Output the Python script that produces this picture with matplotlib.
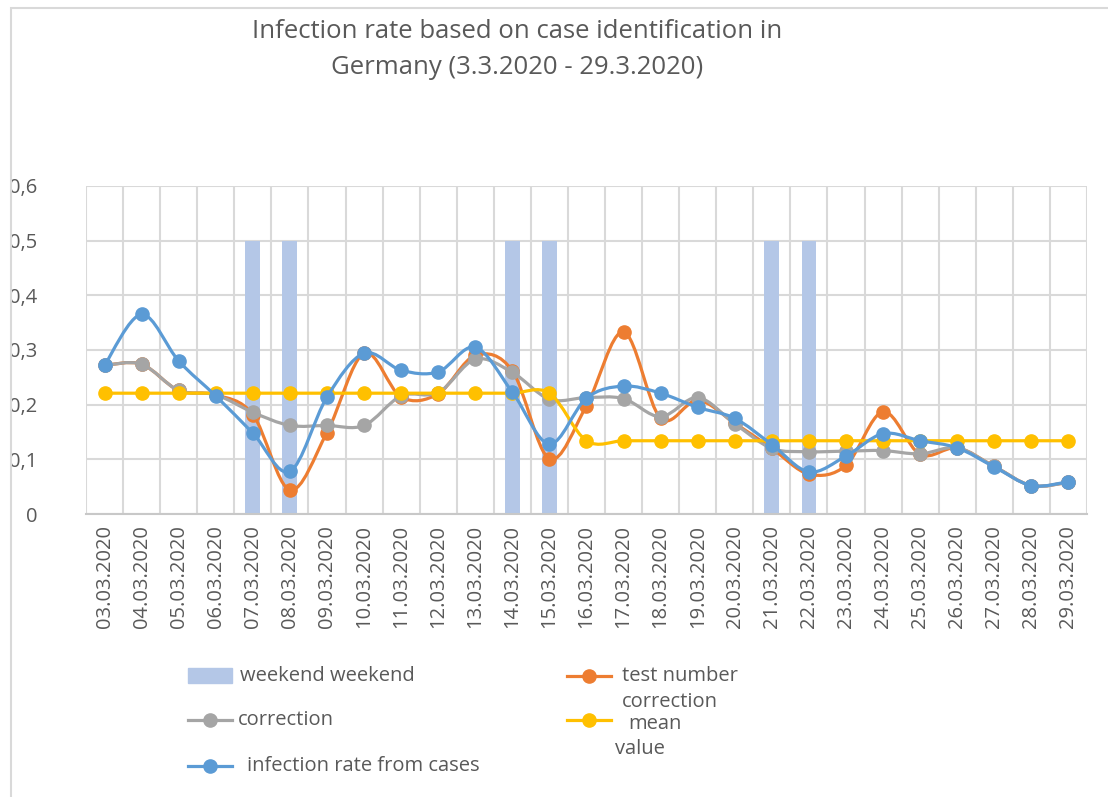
import numpy as np
import matplotlib
matplotlib.use("Agg")
import matplotlib.pyplot as plt
from matplotlib.path import Path
from matplotlib.patches import PathPatch, Rectangle
from matplotlib.lines import Line2D

plt.rcParams['font.family'] = ['Open Sans', 'DejaVu Sans']

dates = ["03.03.2020", "04.03.2020", "05.03.2020", "06.03.2020", "07.03.2020",
         "08.03.2020", "09.03.2020", "10.03.2020", "11.03.2020", "12.03.2020",
         "13.03.2020", "14.03.2020", "15.03.2020", "16.03.2020", "17.03.2020",
         "18.03.2020", "19.03.2020", "20.03.2020", "21.03.2020", "22.03.2020",
         "23.03.2020", "24.03.2020", "25.03.2020", "26.03.2020", "27.03.2020",
         "28.03.2020", "29.03.2020"]

weekend = [0, 0, 0, 0, 0.5, 0.5, 0, 0, 0, 0, 0, 0.5, 0.5, 0,
           0, 0, 0, 0, 0.5, 0.5, 0, 0, 0, 0, 0, 0, 0]

test_number_correction = [0.272, 0.274, 0.226, 0.218, 0.182, 0.044, 0.149, 0.294, 0.214,
                          0.220, 0.290, 0.262, 0.101, 0.198, 0.333, 0.175, 0.208, 0.166,
                          0.120, 0.073, 0.089, 0.187, 0.109, 0.121, 0.087, 0.052, 0.058]

correction = [0.272, 0.274, 0.226, 0.218, 0.186, 0.162, 0.162, 0.162, 0.216,
              0.222, 0.283, 0.259, 0.210, 0.213, 0.211, 0.178, 0.213, 0.165,
              0.120, 0.114, 0.115, 0.116, 0.110, 0.121, 0.087, 0.052, 0.058]

mean_value = [0.221, 0.221, 0.221, 0.221, 0.221, 0.221, 0.221, 0.221, 0.221,
              0.221, 0.221, 0.221, 0.221, 0.134, 0.134, 0.134, 0.134, 0.134,
              0.134, 0.134, 0.134, 0.134, 0.134, 0.134, 0.134, 0.134, 0.134]

infection_rate = [0.272, 0.365, 0.280, 0.216, 0.148, 0.078, 0.214, 0.294, 0.263,
                  0.260, 0.305, 0.223, 0.128, 0.212, 0.234, 0.221, 0.195, 0.175,
                  0.127, 0.077, 0.106, 0.147, 0.134, 0.121, 0.086, 0.052, 0.059]

W, H = 1108, 797
TXT = '#595959'
GRID = '#D9D9D9'
LEG_FS = 14.5


def px(x, y):
    return x / W, 1 - y / H


def smooth(ax, xs, ys, color, z):
    # excel-like smoothed line through the points (bezier segments)
    n = len(xs)
    verts = [(xs[0], ys[0])]
    codes = [Path.MOVETO]
    for i in range(n - 1):
        a = max(i - 1, 0)
        b = min(i + 2, n - 1)
        c1 = (xs[i] + (xs[i + 1] - xs[a]) / 6, ys[i] + (ys[i + 1] - ys[a]) / 6)
        c2 = (xs[i + 1] - (xs[b] - xs[i]) / 6, ys[i + 1] - (ys[b] - ys[i]) / 6)
        verts += [c1, c2, (xs[i + 1], ys[i + 1])]
        codes += [Path.CURVE4] * 3
    ax.add_patch(PathPatch(Path(verts, codes), fill=False, edgecolor=color,
                           lw=2.3, zorder=z, capstyle='round'))
    ax.plot(xs, ys, 'o', color=color, ms=9.5, zorder=z + 0.5)


fig = plt.figure(figsize=(W / 100, H / 100), dpi=100)
l, t = px(86, 186)
r, b = px(1087, 514)
ax = fig.add_axes([l, b, r - l, t - b])

x = np.arange(len(dates))
ax.bar(x, weekend, width=0.4, color='#B4C7E7', zorder=2)

series = [(test_number_correction, '#ED7D31'), (correction, '#A5A5A5'),
          (mean_value, '#FFC000'), (infection_rate, '#5B9BD5')]
for k, (vals, col) in enumerate(series):
    smooth(ax, x, vals, col, 3 + k)

ax.set_xlim(-0.5, len(dates) - 0.5)
ax.set_ylim(0, 0.6)
ax.set_yticks(np.arange(0, 0.61, 0.1))
ax.set_yticklabels(["0", "0,1", "0,2", "0,3", "0,4", "0,5", "0,6"])
ax.set_xticks(x)
ax.set_xticklabels(dates, rotation=90)
ax.set_xticks(np.arange(-0.5, len(dates)), minor=True)
ax.grid(True, which='minor', axis='x', color=GRID, lw=1.5, zorder=0)
ax.grid(True, which='major', axis='y', color=GRID, lw=1.5, zorder=0)
ax.tick_params(axis='both', which='both', length=0, colors=TXT, labelsize=14.5)
ax.tick_params(axis='y', pad=35)
ax.tick_params(axis='x', pad=8)
for s in ['left', 'right', 'top']:
    ax.spines[s].set_visible(False)
ax.spines['bottom'].set_color('#C8C8C8')
ax.spines['bottom'].set_linewidth(1.5)
ax.set_axisbelow(True)

fig.text(*px(517, 32), "Infection rate based on case identification in",
         ha='center', va='center', fontsize=18.5, color=TXT)
fig.text(*px(517, 68), "Germany (3.3.2020 - 29.3.2020)",
         ha='center', va='center', fontsize=18.5, color=TXT)

# legend, drawn by hand to keep Excel's odd wrapping
fig.add_artist(Rectangle(px(188, 683), 44 / W, 15 / H, transform=fig.transFigure,
                         color='#B4C7E7'))
fig.text(*px(240, 676), "weekend weekend", va='center', fontsize=LEG_FS, color=TXT)


def leg_line(x0, y, col):
    xa, ya = px(x0, y)
    xb, _ = px(x0 + 44, y)
    fig.add_artist(Line2D([xa, xb], [ya, ya], color=col, lw=2.3,
                          transform=fig.transFigure))
    fig.add_artist(Line2D([(xa + xb) / 2], [ya], marker='o', ms=9.5, color=col,
                          transform=fig.transFigure))


leg_line(567, 676, '#ED7D31')
fig.text(*px(622, 676), "test number", va='center', fontsize=LEG_FS, color=TXT)
fig.text(*px(622, 702), "correction", va='center', fontsize=LEG_FS, color=TXT)
leg_line(567, 720, '#FFC000')
fig.text(*px(628, 724), "mean", va='center', fontsize=LEG_FS, color=TXT)
fig.text(*px(615, 749), "value", va='center', fontsize=LEG_FS, color=TXT)
leg_line(188, 720, '#A5A5A5')
fig.text(*px(238, 720), "correction", va='center', fontsize=LEG_FS, color=TXT)
leg_line(188, 766, '#5B9BD5')
fig.text(*px(247, 766), "infection rate from cases", va='center', fontsize=LEG_FS, color=TXT)

# chart frame
fig.add_artist(Rectangle(px(11, 830), 1200 / W, 822 / H, transform=fig.transFigure,
                         fill=False, edgecolor=GRID, lw=1.5))

fig.savefig("out.png", dpi=100)
